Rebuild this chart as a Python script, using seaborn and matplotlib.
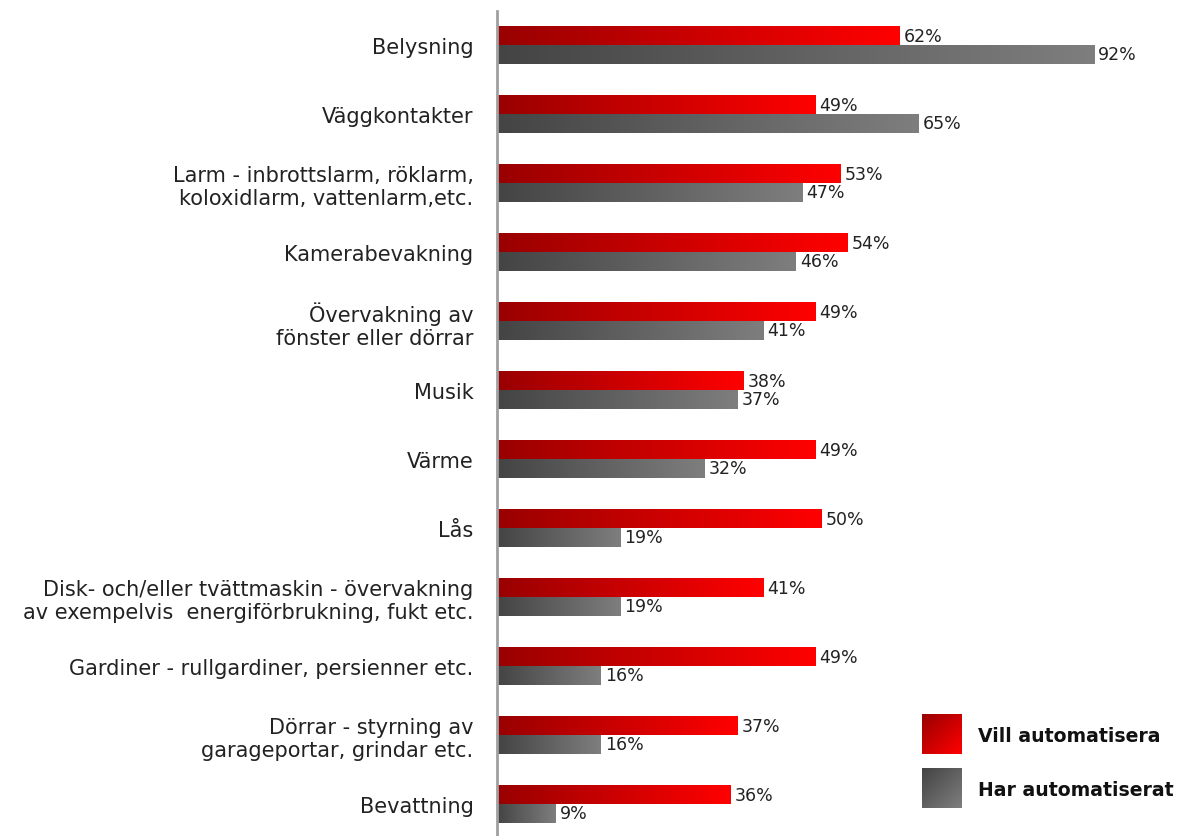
import numpy as np
import pandas as pd
import matplotlib.pyplot as plt
import seaborn as sns
from matplotlib.colors import LinearSegmentedColormap

kategorier = [
    'Belysning',
    'Väggkontakter',
    'Larm - inbrottslarm, röklarm,\nkoloxidlarm, vattenlarm,etc.',
    'Kamerabevakning',
    'Övervakning av\nfönster eller dörrar',
    'Musik',
    'Värme',
    'Lås',
    'Disk- och/eller tvättmaskin - övervakning\nav exempelvis  energiförbrukning, fukt etc.',
    'Gardiner - rullgardiner, persienner etc.',
    'Dörrar - styrning av\ngarageportar, grindar etc.',
    'Bevattning',
]
vill = [62, 49, 53, 54, 49, 38, 49, 50, 41, 49, 37, 36]
har = [92, 65, 47, 46, 41, 37, 32, 19, 19, 16, 16, 9]
serier = ['Vill automatisera', 'Har automatiserat']

df = pd.DataFrame({
    'kategori': kategorier * 2,
    'andel': vill + har,
    'serie': [serier[0]] * len(vill) + [serier[1]] * len(har),
})

sns.set_style('white')
plt.rcParams['font.family'] = ['DejaVu Sans']

# gradienter: mörk till ljus längs stapeln
roda = LinearSegmentedColormap.from_list('roda', ['#990000', '#ff0000'])
graa = LinearSegmentedColormap.from_list('graa', ['#444444', '#7e7e7e'])
cmaps = [roda, graa]

W, H = 1181, 837
fig = plt.figure(figsize=(W / 100, H / 100), dpi=100)
ax = fig.add_axes([497 / W, -2.5 / H, 684 / W, 828 / H])

sns.barplot(data=df, y='kategori', x='andel', hue='serie', orient='h',
            width=0.55, palette=['#ff0000', '#777777'], errorbar=None,
            legend=False, ax=ax)

grad = np.linspace(0, 1, 256).reshape(1, -1)
for cont, cmap in zip(ax.containers, cmaps):
    for bar in cont:
        x0, y0 = bar.get_xy()
        w, h = bar.get_width(), bar.get_height()
        ax.imshow(grad, extent=[x0, x0 + w, y0 + h, y0], aspect='auto',
                  cmap=cmap, zorder=2, interpolation='bilinear')
        bar.set_facecolor('none')
        bar.set_edgecolor('none')

ax.bar_label(ax.containers[0], labels=[f'{v}%' for v in vill], padding=3,
             fontsize=12.5, color='#222222')
ax.bar_label(ax.containers[1], labels=[f'{v}%' for v in har], padding=3,
             fontsize=12.5, color='#222222')

ax.set_xlim(0, 684 / 6.49)
ax.set_ylim(len(kategorier) - 0.5, -0.5)
ax.set_xlabel('')
ax.set_ylabel('')
ax.set_xticks([])
ax.tick_params(axis='y', length=0, pad=17, labelsize=15, labelcolor='#222222')
for s in ['top', 'right', 'bottom']:
    ax.spines[s].set_visible(False)
ax.spines['left'].set_color('#a0a0a0')
ax.spines['left'].set_linewidth(2)

# förklaring med gradientrutor
xx, yy = np.meshgrid(np.linspace(0, 1, 64), np.linspace(0, 1, 64))
diag = (xx + yy) / 2
for i, (namn, cmap) in enumerate(zip(serier, cmaps)):
    top = 715 + i * 54
    lax = fig.add_axes([922 / W, 1 - (top + 40) / H, 40 / W, 40 / H])
    lax.imshow(diag, cmap=cmap, aspect='auto', interpolation='bilinear')
    lax.axis('off')
    fig.text(978 / W, 1 - (top + 22) / H, namn, fontsize=13.6,
             fontweight='bold', va='center', ha='left', color='#111111')

fig.savefig('out.png', dpi=100)
